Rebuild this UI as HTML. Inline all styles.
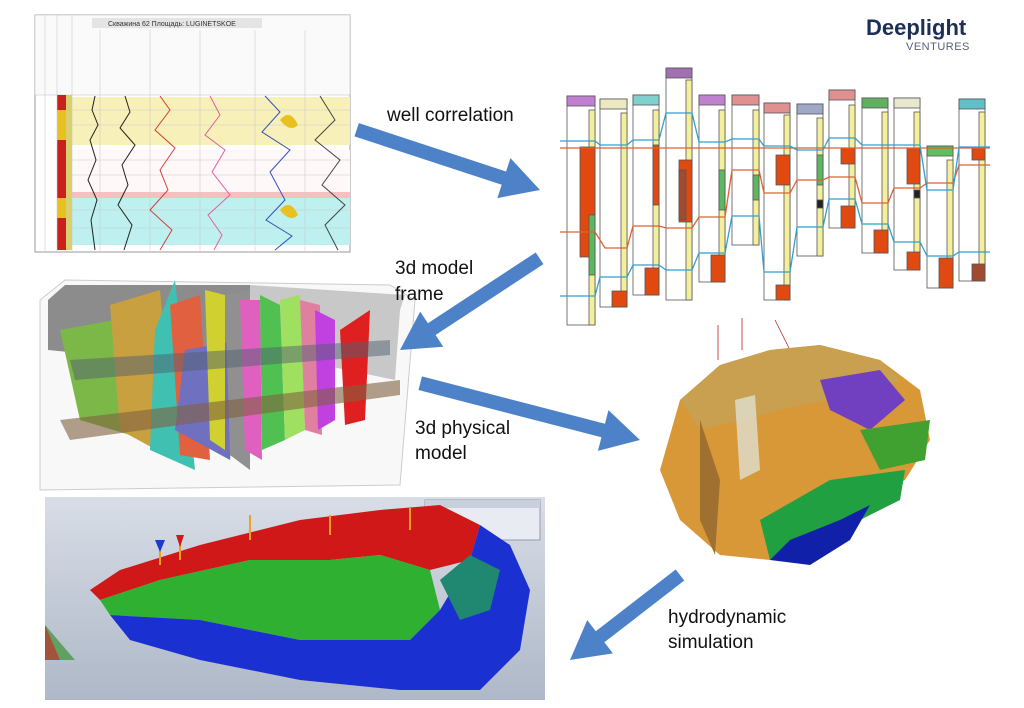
<!DOCTYPE html>
<html><head><meta charset="utf-8"><style>
html,body{margin:0;padding:0;background:#fff;width:1024px;height:708px;overflow:hidden}
svg{display:block}
text{font-family:"Liberation Sans",sans-serif}
</style></head><body>
<svg width="1024" height="708" viewBox="0 0 1024 708" xmlns="http://www.w3.org/2000/svg">
<defs>
<linearGradient id="simbg" x1="0" y1="0" x2="0" y2="1"><stop offset="0" stop-color="#d8dde6"/><stop offset="1" stop-color="#aeb8c8"/></linearGradient>
</defs>

<!-- well log -->
<g>
<rect x="35" y="15" width="315" height="237" fill="#fff" stroke="#999"/>
<rect x="35" y="15" width="315" height="80" fill="#fafafa" stroke="#bbb" stroke-width="0.5"/>
<rect x="92" y="18" width="170" height="10" fill="#e4e4e4"/>
<text x="108" y="26" font-size="7" fill="#333">Скважина 62 Площадь: LUGINETSKOE</text>
<rect x="70" y="97" width="280" height="48" fill="#f7f0b8"/>
<rect x="70" y="150" width="280" height="42" fill="#fff8f8"/>
<rect x="70" y="197" width="280" height="48" fill="#bdf0ee"/>
<rect x="70" y="192" width="280" height="6" fill="#f6c0c0"/>
<rect x="57" y="95" width="10" height="155" fill="#c8201c"/>
<rect x="57" y="110" width="10" height="30" fill="#e8c020"/>
<rect x="57" y="198" width="10" height="20" fill="#e8c020"/>
<rect x="66" y="95" width="6" height="155" fill="#d8d070"/>
<g stroke="#ccc" stroke-width="0.6">
<line x1="45" y1="15" x2="45" y2="252"/><line x1="57" y1="15" x2="57" y2="252"/><line x1="72" y1="15" x2="72" y2="252"/>
<line x1="100" y1="30" x2="100" y2="252"/><line x1="150" y1="30" x2="150" y2="252"/><line x1="200" y1="30" x2="200" y2="252"/><line x1="255" y1="30" x2="255" y2="252"/><line x1="305" y1="30" x2="305" y2="252"/>
<line x1="72" y1="110" x2="350" y2="110"/><line x1="72" y1="125" x2="350" y2="125"/><line x1="72" y1="160" x2="350" y2="160"/><line x1="72" y1="175" x2="350" y2="175"/><line x1="72" y1="210" x2="350" y2="210"/><line x1="72" y1="228" x2="350" y2="228"/>
</g>
<g fill="none" stroke-width="1">
<polyline stroke="#222" points="95,96 92,110 98,125 90,140 96,160 88,180 97,200 91,220 95,250"/>
<polyline stroke="#222" points="125,96 130,112 120,128 135,145 122,165 128,185 118,205 132,225 124,250"/>
<polyline stroke="#d04040" points="160,96 170,110 155,130 175,148 160,170 168,190 150,210 172,230 160,250"/>
<polyline stroke="#e060a0" points="210,96 220,115 205,135 225,150 212,172 230,195 208,215 222,235 214,250"/>
<polyline stroke="#3050c0" points="265,96 280,112 262,132 290,150 270,172 285,200 266,220 292,236 275,250"/>
<polyline stroke="#444" points="320,96 335,120 315,140 340,160 322,185 345,205 325,225 338,250"/>
</g>
<path d="M280,120 q10,-12 18,5 q-8,8 -18,-5z" fill="#e8c020"/><path d="M280,210 q10,-12 18,5 q-8,8 -18,-5z" fill="#e8c020"/>
</g>

<!-- 3d frame -->
<g>
<polygon points="40,300 65,280 390,285 415,300 400,485 40,490" fill="#f8f8f8" stroke="#ccc"/>
<polygon points="48,300 65,285 250,285 250,370 48,350" fill="#8c8c8c"/>
<polygon points="250,285 405,295 400,310 395,380 250,350" fill="#c8c8c8"/>
<polygon points="60,330 170,310 180,450 80,420" fill="#7cb848"/>
<polygon points="110,305 160,290 175,460 120,430" fill="#c8a040"/>
<polygon points="155,330 175,280 195,470 150,450" fill="#40c0b0"/>
<polygon points="170,305 200,295 210,460 180,455" fill="#e06040"/>
<polygon points="185,350 240,340 230,460 175,430" fill="#7070c0"/>
<polygon points="205,290 225,295 225,450 210,440" fill="#d0d030"/>
<polygon points="225,295 250,290 250,470 230,455" fill="#909090"/>
<polygon points="240,300 260,300 262,460 245,450" fill="#e060c0"/>
<polygon points="260,295 280,305 285,440 262,450" fill="#50c050"/>
<polygon points="280,300 300,295 305,430 285,440" fill="#a0e060"/>
<polygon points="300,300 320,305 322,435 305,430" fill="#e080a0"/>
<polygon points="315,310 335,320 335,420 318,430" fill="#c040e0"/>
<polygon points="340,330 370,310 365,420 345,425" fill="#e02020"/>
<polygon points="60,420 400,380 400,395 70,440" fill="#806040" opacity="0.6"/>
<polygon points="70,360 390,340 390,355 75,380" fill="#506070" opacity="0.5"/>
</g>

<!-- correlation panel -->
<g stroke="#555" stroke-width="0.8">
<rect x="567" y="96" width="28" height="229" fill="#fff"/><rect x="567" y="96" width="28" height="10" fill="#c080d0"/><rect x="589" y="110" width="6" height="215" fill="#f3ef9c"/><rect x="580" y="147" width="15" height="110" fill="#e04a10"/><rect x="589" y="215" width="6" height="60" fill="#5cb860"/>
<rect x="600" y="99" width="27" height="208" fill="#fff"/><rect x="600" y="99" width="27" height="10" fill="#eee8c0"/><rect x="621" y="113" width="6" height="194" fill="#f3ef9c"/><rect x="612" y="291" width="15" height="16" fill="#e04a10"/>
<rect x="633" y="95" width="26" height="200" fill="#fff"/><rect x="633" y="95" width="26" height="10" fill="#80d0d0"/><rect x="653" y="110" width="6" height="185" fill="#f3ef9c"/><rect x="653" y="145" width="6" height="60" fill="#e04a10"/><rect x="645" y="268" width="14" height="27" fill="#e04a10"/>
<rect x="666" y="68" width="26" height="232" fill="#fff"/><rect x="666" y="68" width="26" height="10" fill="#a070b0"/><rect x="686" y="80" width="6" height="220" fill="#f3ef9c"/><rect x="679" y="160" width="13" height="62" fill="#e04a10"/><rect x="679" y="170" width="7" height="50" fill="#a04a30"/>
<rect x="699" y="95" width="26" height="187" fill="#fff"/><rect x="699" y="95" width="26" height="10" fill="#c080d0"/><rect x="719" y="110" width="6" height="172" fill="#f3ef9c"/><rect x="719" y="170" width="6" height="40" fill="#5cb860"/><rect x="711" y="255" width="14" height="27" fill="#e04a10"/>
<rect x="732" y="95" width="27" height="150" fill="#fff"/><rect x="732" y="95" width="27" height="10" fill="#e09090"/><rect x="753" y="110" width="6" height="135" fill="#f3ef9c"/><rect x="753" y="175" width="6" height="25" fill="#5cb860"/>
<rect x="764" y="103" width="26" height="197" fill="#fff"/><rect x="764" y="103" width="26" height="10" fill="#e09090"/><rect x="784" y="115" width="6" height="185" fill="#f3ef9c"/><rect x="776" y="155" width="14" height="30" fill="#e04a10"/><rect x="776" y="285" width="14" height="15" fill="#e04a10"/>
<rect x="797" y="104" width="26" height="152" fill="#fff"/><rect x="797" y="104" width="26" height="10" fill="#a0a8c8"/><rect x="817" y="118" width="6" height="138" fill="#f3ef9c"/><rect x="817" y="155" width="6" height="30" fill="#5cb860"/><rect x="817" y="200" width="6" height="8" fill="#222"/>
<rect x="829" y="90" width="26" height="138" fill="#fff"/><rect x="829" y="90" width="26" height="10" fill="#e09090"/><rect x="849" y="105" width="6" height="123" fill="#f3ef9c"/><rect x="841" y="148" width="14" height="16" fill="#e04a10"/><rect x="841" y="206" width="14" height="22" fill="#e04a10"/>
<rect x="862" y="98" width="26" height="155" fill="#fff"/><rect x="862" y="98" width="26" height="10" fill="#60b060"/><rect x="882" y="112" width="6" height="141" fill="#f3ef9c"/><rect x="874" y="230" width="14" height="23" fill="#e04a10"/>
<rect x="894" y="98" width="26" height="172" fill="#fff"/><rect x="894" y="98" width="26" height="10" fill="#e8e8d0"/><rect x="914" y="112" width="6" height="158" fill="#f3ef9c"/><rect x="907" y="148" width="13" height="36" fill="#e04a10"/><rect x="907" y="252" width="13" height="18" fill="#e04a10"/><rect x="914" y="190" width="6" height="8" fill="#222"/>
<rect x="927" y="146" width="26" height="142" fill="#fff"/><rect x="927" y="146" width="26" height="10" fill="#60c060"/><rect x="947" y="160" width="6" height="128" fill="#f3ef9c"/><rect x="939" y="258" width="14" height="30" fill="#e04a10"/>
<rect x="959" y="99" width="26" height="182" fill="#fff"/><rect x="959" y="99" width="26" height="10" fill="#60c0c8"/><rect x="979" y="112" width="6" height="169" fill="#f3ef9c"/><rect x="972" y="148" width="13" height="12" fill="#e04a10"/><rect x="972" y="264" width="13" height="17" fill="#a04a30"/>
</g>
<g fill="none" stroke-width="1.3">
<polyline stroke="#e06030" points="560,148 990,148"/>
<polyline stroke="#e06030" points="560,232 595,232 605,248 627,248 633,226 659,226 666,228 692,228 699,217 725,217 732,170 759,170 764,193 790,193 797,180 823,180 829,177 855,177 862,203 888,203 894,188 920,188 927,183 953,183 959,165 990,165"/>
<polyline stroke="#30a0d0" points="560,141 595,141 600,145 627,145 633,140 659,140 666,113 692,113 699,142 725,142 732,139 759,139 764,146 790,146 797,150 823,150 829,138 855,138 862,145 888,145 894,145 920,145 927,190 953,190 959,147 990,147"/>
<polyline stroke="#30a0d0" points="560,296 595,296 600,277 627,277 633,265 659,265 666,270 692,270 699,253 725,253 732,216 759,216 764,272 790,272 797,227 823,227 829,199 855,199 862,224 888,224 894,242 920,242 927,256 953,256 959,252 990,252"/>
</g>

<!-- 3d physical model -->
<g>
<g stroke="#c02020" stroke-width="0.8"><line x1="718" y1="325" x2="718" y2="360"/><line x1="742" y1="318" x2="742" y2="350"/><line x1="775" y1="320" x2="790" y2="350"/></g>
<polygon points="660,470 680,400 720,365 770,350 820,345 880,360 920,390 930,440 905,480 870,500 830,545 770,560 720,555 680,520" fill="#d89838"/>
<polygon points="680,400 720,365 770,350 820,345 880,360 900,380 860,395 800,405 740,420 700,430" fill="#c8a050"/>
<polygon points="820,380 880,370 905,400 870,430 830,410" fill="#7040c0"/>
<polygon points="860,430 930,420 925,460 880,470" fill="#40a030"/>
<polygon points="760,520 830,480 905,470 900,500 860,520 830,545 770,560" fill="#20a040"/>
<polygon points="770,560 790,540 840,520 870,505 850,540 810,565" fill="#1020a8"/>
<polygon points="700,420 720,480 715,555 700,520" fill="#a07030"/>
<polygon points="735,400 755,395 760,470 740,480" fill="#e0e0d0" opacity="0.8"/>
</g>

<!-- simulation -->
<g>
<rect x="45" y="497" width="500" height="203" fill="url(#simbg)"/>
<rect x="425" y="500" width="115" height="40" fill="#e8ecf2" stroke="#99a"/>
<rect x="425" y="500" width="115" height="8" fill="#c8d0dc"/>
<polygon points="90,590 120,570 200,545 300,520 380,510 440,505 480,525 470,560 430,570 380,555 330,560 250,560 160,580 100,600" fill="#d01818"/>
<polygon points="100,600 160,580 250,560 330,560 380,555 430,570 440,610 410,640 300,640 200,620 110,615" fill="#30b030"/>
<polygon points="110,615 200,620 300,640 410,640 440,610 470,560 480,525 510,545 530,590 520,650 480,690 400,690 300,680 200,660 130,640" fill="#1a30d0"/>
<polygon points="440,580 470,555 500,570 490,610 460,620" fill="#208870"/>
<polygon points="45,625 75,660 45,660" fill="#60a060"/>
<polygon points="45,625 60,660 45,660" fill="#d02020" opacity="0.6"/>
<g stroke="#f0a020" stroke-width="2"><line x1="160" y1="540" x2="160" y2="565"/><line x1="180" y1="538" x2="180" y2="560"/><line x1="250" y1="515" x2="250" y2="540"/><line x1="330" y1="515" x2="330" y2="535"/><line x1="410" y1="508" x2="410" y2="530"/></g>
<polygon points="155,540 165,540 160,552" fill="#1a3ad0"/><polygon points="176,535 184,535 180,547" fill="#d01818"/>
</g>

<!-- logo -->
<text x="866" y="35" font-size="22" font-weight="bold" fill="#1d2f55">Deeplight</text>
<text x="906" y="50" font-size="11" fill="#56617a" letter-spacing="0.5">VENTURES</text>

<!-- arrows -->
<g fill="#4e82c8">
<g transform="translate(540,190) rotate(18.2)"><polygon points="0,0 -38,-21 -38,-7 -193,-7 -193,7 -38,7 -38,21"/></g>
<g transform="translate(400,350) rotate(146.7)"><polygon points="0,0 -38,-21 -38,-7 -167,-7 -167,7 -38,7 -38,21"/></g>
<g transform="translate(640,440) rotate(14.5)"><polygon points="0,0 -38,-21 -38,-7 -227,-7 -227,7 -38,7 -38,21"/></g>
<g transform="translate(570,660) rotate(142.3)"><polygon points="0,0 -38,-21 -38,-7 -139,-7 -139,7 -38,7 -38,21"/></g>
</g>

<!-- labels -->
<g font-size="19" fill="#111">
<text x="387" y="121">well correlation</text>
<text x="395" y="274">3d model</text><text x="395" y="300">frame</text>
<text x="415" y="434">3d physical</text><text x="415" y="459">model</text>
<text x="668" y="623">hydrodynamic</text><text x="668" y="648">simulation</text>
</g>
</svg>
</body></html>
